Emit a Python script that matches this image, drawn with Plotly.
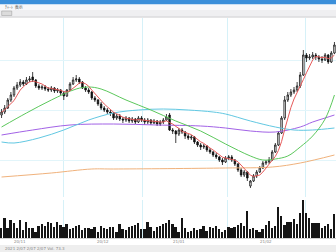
import plotly.graph_objects as go
import pandas as pd

# ---------------- data ----------------
opens = [1425,1440,1460,1500,1525,1560,1575,1590,1580,1600,
         1615,1600,1570,1560,1565,1555,1550,1560,1545,1550,
         1535,1520,1550,1580,1600,1605,1590,1560,1550,1540,
         1510,1500,1480,1460,1450,1440,1435,1410,1420,1405,
         1400,1410,1395,1405,1390,1410,1400,1390,1400,1385,
         1395,1380,1390,1400,1425,1350,1345,1330,1350,1340,
         1320,1310,1315,1290,1275,1265,1270,1250,1240,1225,
         1215,1200,1190,1210,1215,1200,1180,1150,1125,1140,
         1070,1095,1120,1140,1160,1185,1190,1200,1240,1275,
         1335,1410,1500,1525,1540,1550,1570,1625,1725,1710,
         1715,1725,1715,1705,1700,1725,1690,1735]
closes = [1440,1460,1500,1525,1560,1575,1590,1580,1600,1605,
          1600,1570,1560,1565,1555,1550,1560,1545,1550,1535,
          1520,1550,1580,1600,1605,1590,1560,1550,1540,1510,
          1500,1480,1460,1450,1440,1435,1410,1420,1405,1400,
          1410,1395,1405,1390,1410,1400,1390,1400,1385,1395,
          1380,1390,1400,1415,1350,1345,1330,1350,1340,1320,
          1310,1315,1290,1275,1265,1270,1250,1240,1225,1215,
          1200,1190,1210,1215,1200,1180,1150,1125,1140,1110,
          1095,1120,1140,1160,1185,1190,1200,1240,1275,1335,
          1410,1500,1525,1540,1550,1570,1625,1725,1710,1715,
          1725,1715,1705,1700,1725,1690,1735,1775]
highs = [1455,1475,1510,1540,1570,1590,1605,1600,1615,1620,
         1640,1605,1580,1575,1575,1565,1570,1565,1560,1555,
         1545,1555,1590,1615,1625,1615,1595,1570,1560,1545,
         1520,1505,1490,1470,1460,1450,1440,1430,1430,1415,
         1420,1415,1415,1410,1420,1420,1410,1410,1405,1405,
         1400,1400,1410,1430,1435,1360,1350,1360,1360,1345,
         1330,1325,1320,1295,1285,1280,1275,1260,1245,1235,
         1220,1210,1220,1225,1225,1205,1185,1160,1150,1145,
         1100,1130,1150,1170,1195,1200,1215,1250,1285,1345,
         1420,1520,1540,1555,1565,1590,1640,1750,1735,1730,
         1740,1735,1725,1720,1735,1730,1745,1790]
lows = [1410,1430,1455,1490,1515,1550,1565,1570,1575,1590,
        1590,1560,1550,1550,1545,1540,1540,1535,1535,1525,
        1500,1515,1545,1575,1590,1580,1555,1540,1530,1500,
        1490,1470,1450,1440,1430,1420,1400,1400,1395,1385,
        1390,1385,1385,1380,1385,1390,1375,1380,1375,1380,
        1370,1370,1380,1395,1345,1330,1285,1320,1330,1305,
        1300,1300,1280,1265,1250,1255,1240,1230,1215,1205,
        1190,1175,1185,1200,1190,1170,1140,1115,1115,1095,
        1060,1090,1110,1135,1155,1175,1180,1195,1235,1270,
        1330,1400,1490,1515,1530,1540,1560,1620,1690,1700,
        1705,1700,1690,1685,1695,1680,1685,1730]
volumes = [10,20,10,18,15,10,18,8,16,10,
           10,6,12,14,12,16,15,11,16,13,
           11,14,9,10,12,13,8,10,10,9,
           11,6,12,10,9,11,11,6,14,9,
           8,11,12,13,15,9,9,16,11,7,
           11,12,14,15,18,14,11,6,20,10,
           6,7,10,8,9,12,7,11,10,12,
           9,6,8,11,10,11,13,15,12,27,
           9,10,8,6,9,13,17,10,12,31,
           22,13,16,16,19,14,25,38,25,20,
           15,15,15,10,12,14,9,24]

# longer moving averages, read at a few candle positions
ma_green_idx = [0, 8, 16, 24, 28, 32, 40, 48, 56, 64, 72, 80, 84, 88, 92, 96, 100, 104, 107]
ma_green_val = [1365,1435,1500,1555,1565,1555,1500,1450,1395,1345,1280,1220,1200,1205,1220,1265,1320,1405,1525]
ma_cyan_idx = [0, 4, 12, 20, 28, 36, 44, 52, 60, 68, 72, 80, 88, 94, 100, 107]
ma_cyan_val = [1290,1285,1310,1350,1400,1435,1450,1455,1450,1440,1430,1395,1365,1350,1350,1360]
ma_purple_idx = [0, 10, 22, 36, 50, 64, 72, 80, 88, 96, 100, 104, 107]
ma_purple_val = [1325,1350,1375,1380,1375,1370,1360,1345,1340,1365,1390,1410,1425]
ma_orange_idx = [0, 16, 29, 36, 72, 87, 96, 107]
ma_orange_val = [1115,1135,1155,1155,1160,1165,1185,1225]

grid_idx = [19.8, 45.3, 72.7, 97.6]
label_idx = [6, 32.5, 57, 85]
label_txt = ["20/11", "20/12", "21/01", "21/02"]

N = len(closes)
idx = list(range(N))
ma5 = pd.Series(closes).rolling(5, min_periods=1).mean().tolist()

def py(p):
    return 1 - p / 252.0

fig = go.Figure()

lines = [(ma_orange_idx, ma_orange_val, "#f0b27c"),
         (ma_purple_idx, ma_purple_val, "#a262e6"),
         (ma_cyan_idx, ma_cyan_val, "#62c8e2"),
         (ma_green_idx, ma_green_val, "#5cc85c")]
for xs, ys, col in lines:
    fig.add_trace(go.Scatter(x=xs, y=ys, mode="lines",
                             line=dict(color=col, width=1, shape="spline", smoothing=1.0),
                             hoverinfo="skip", showlegend=False))

fig.add_trace(go.Scatter(x=idx, y=ma5, mode="lines",
                         line=dict(color="#e65a5a", width=1),
                         hoverinfo="skip", showlegend=False))

fig.add_trace(go.Candlestick(
    x=idx, open=opens, high=highs, low=lows, close=closes,
    increasing=dict(line=dict(color="#111111", width=0.8), fillcolor="#ffffff"),
    decreasing=dict(line=dict(color="#111111", width=0.8), fillcolor="#111111"),
    whiskerwidth=0, showlegend=False, hoverinfo="skip"))

fig.add_trace(go.Bar(x=idx, y=volumes, yaxis="y2", width=0.6,
                     marker=dict(color="#151515", line=dict(width=0)),
                     showlegend=False, hoverinfo="skip"))

shapes = [
    dict(type="rect", xref="paper", yref="paper", x0=0, x1=1, y0=py(4.5), y1=1,
         fillcolor="#3b8fda", line=dict(width=0), layer="above"),
    dict(type="rect", xref="paper", yref="paper", x0=0, x1=1, y0=py(10), y1=py(4.5),
         fillcolor="#f7f8fa", line=dict(width=0), layer="above"),
    dict(type="rect", xref="paper", yref="paper", x0=0, x1=1, y0=py(16.5), y1=py(10),
         fillcolor="#efeff1", line=dict(width=0), layer="above"),
    dict(type="line", xref="paper", yref="paper", x0=0, x1=1, y0=py(17), y1=py(17),
         line=dict(color="#c9c9cc", width=1), layer="above"),
    dict(type="rect", xref="paper", yref="paper", x0=0, x1=1, y0=0, y1=py(245),
         fillcolor="#eeeeee", line=dict(width=0), layer="above"),
    dict(type="line", xref="paper", yref="paper", x0=0, x1=1, y0=py(238.5), y1=py(238.5),
         line=dict(color="#d0d0d0", width=1), layer="above"),
    dict(type="rect", xref="paper", yref="paper", x0=0.005, x1=0.035, y0=py(15.5), y1=py(11),
         fillcolor="#dcdcdc", line=dict(color="#9a9a9a", width=0.5), layer="above"),
]

annotations = [
    dict(x=0.01, y=py(7.3), xref="paper", yref="paper", text="ﾁｬｰﾄ  表示",
         showarrow=False, xanchor="left", yanchor="middle",
         font=dict(size=4, color="#555555", family="Noto Sans CJK JP")),
    dict(x=0.01, y=py(248.5), xref="paper", yref="paper",
         text="2021 2/07 2/07 2/07 Vol. 73.3",
         showarrow=False, xanchor="left", yanchor="middle",
         font=dict(size=4, color="#8a8a8a", family="DejaVu Sans")),
]
for xi, t in zip(label_idx, label_txt):
    annotations.append(dict(x=xi, y=py(241.8), xref="x", yref="paper", text=t,
                            showarrow=False, xanchor="center", yanchor="middle",
                            font=dict(size=4, color="#8a8a8a", family="DejaVu Sans")))

fig.update_layout(
    width=336, height=252, margin=dict(l=0, r=0, t=0, b=0),
    paper_bgcolor="#ffffff", plot_bgcolor="#ffffff",
    showlegend=False, bargap=0,
    xaxis=dict(domain=[0, 1], range=[-0.5, N - 0.5], rangeslider=dict(visible=False),
               tickvals=grid_idx, showticklabels=False, ticks="",
               showgrid=True, gridcolor="#d6f1f8", gridwidth=1,
               zeroline=False, showline=False, fixedrange=True),
    yaxis=dict(domain=[py(197), py(18)], range=[1015, 1910],
               tickvals=[1200, 1450, 1700], showticklabels=False, ticks="",
               showgrid=True, gridcolor="#e2f5fa", gridwidth=1,
               zeroline=False, showline=False, fixedrange=True),
    yaxis2=dict(domain=[py(238), py(200)], range=[0, 38],
                showgrid=False, showticklabels=False, ticks="",
                zeroline=False, showline=False, fixedrange=True),
    shapes=shapes, annotations=annotations,
)

fig.write_html("out.html")
